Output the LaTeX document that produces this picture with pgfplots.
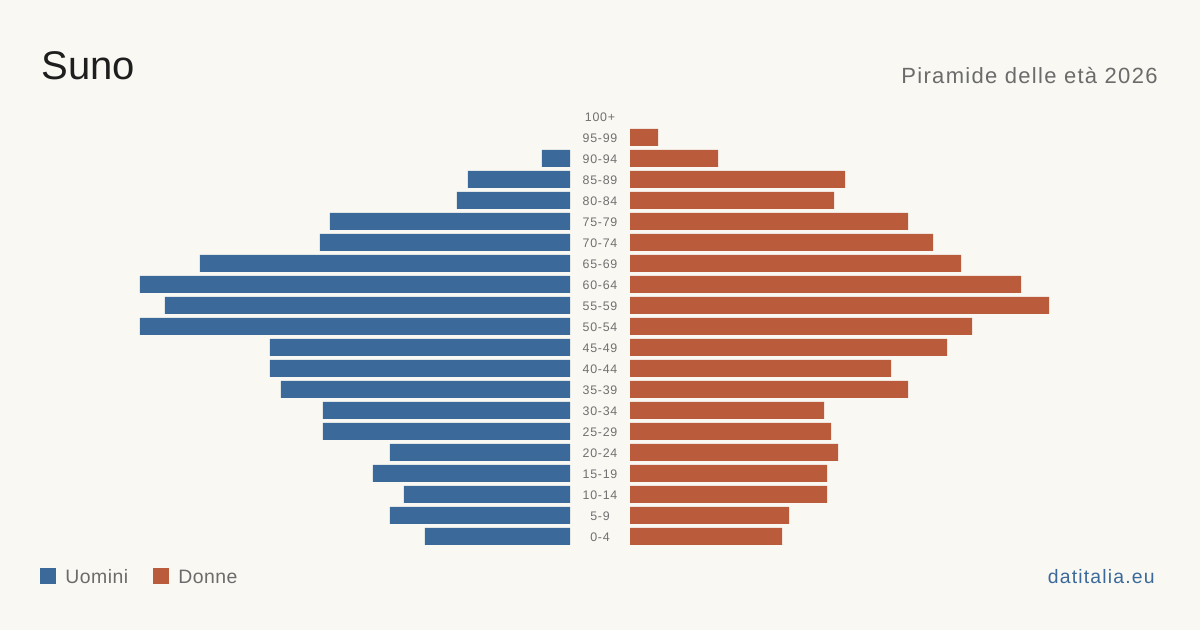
\documentclass[border=0pt]{standalone}
\usepackage{pgfplots}
\pgfplotsset{compat=1.18}
\usepackage{fontspec}
\setmainfont{Liberation Sans}
\newfontfamily\widefont[LetterSpace=6]{Liberation Sans}
\newfontfamily\legfont[LetterSpace=2.5]{Liberation Sans}
\definecolor{bgc}{HTML}{F9F8F3}
\definecolor{menc}{HTML}{3B6A9A}
\definecolor{womc}{HTML}{BA5C3C}
\definecolor{titc}{HTML}{1E1E1E}
\definecolor{grayc}{HTML}{6B6B6B}
\definecolor{lblc}{HTML}{707070}
\begin{document}
\begin{tikzpicture}
\fill[bgc] (0pt,0pt) rectangle (600pt,-315pt);
\pgfplotsset{pyr/.style={
  scale only axis, width=215pt, height=220.5pt,
  xmin=0, xmax=430, ymin=-0.5, ymax=20.5,
  axis line style={draw=none}, xbar, bar width=8.5pt, clip=false,
  ytick=\empty, xtick=\empty, major tick length=0pt,
  tick style={draw=none}
}}
\begin{axis}[pyr, at={(285pt,-53pt)}, anchor=north east, x dir=reverse]
\addplot[fill=menc, draw=none] coordinates {
(145,0) (180,1) (166,2) (197,3) (180,4) (247,5) (247,6) (289,7) (300,8) (300,9)
(430,10) (405,11) (430,12) (370,13) (250,14) (240,15) (113,16) (102,17) (28,18)
};
\end{axis}
\begin{axis}[pyr, at={(315pt,-53pt)}, anchor=north west,
  ytick={0,...,20},
  yticklabels={0-4,5-9,10-14,15-19,20-24,25-29,30-34,35-39,40-44,45-49,50-54,55-59,60-64,65-69,70-74,75-79,80-84,85-89,90-94,95-99,100+},
  y tick label style={anchor=center, xshift=-15pt, yshift=-0.6pt, font=\fontsize{6.2pt}{7pt}\widefont, text=lblc, inner sep=0pt}]
\addplot[fill=womc, draw=none] coordinates {
(152,0) (159,1) (197,2) (197,3) (208,4) (201,5) (194,6) (278,7) (261,8) (317,9)
(342,10) (419,11) (391,12) (331,13) (303,14) (278,15) (204,16) (215,17) (88,18) (28,19)
};
\end{axis}
\node[anchor=base west, inner sep=0pt, text=titc, font=\fontsize{20pt}{24pt}\selectfont] at (20.5pt,-40pt) {Suno};
\node[anchor=base east, inner sep=0pt, text=grayc, font=\fontsize{11pt}{13pt}\widefont] at (579pt,-42pt) {Piramide delle età 2026};
\fill[menc] (20pt,-284pt) rectangle (28pt,-292pt);
\node[anchor=base west, inner sep=0pt, text=grayc, font=\fontsize{9.7pt}{12pt}\legfont] at (32.5pt,-291.5pt) {Uomini};
\fill[womc] (76.5pt,-284pt) rectangle (84.5pt,-292pt);
\node[anchor=base west, inner sep=0pt, text=grayc, font=\fontsize{9.7pt}{12pt}\legfont] at (89pt,-291.5pt) {Donne};
\node[anchor=base east, inner sep=0pt, text=menc, font=\fontsize{9.7pt}{12pt}\widefont] at (577.5pt,-291.5pt) {datitalia.eu};
\end{tikzpicture}
\end{document}
